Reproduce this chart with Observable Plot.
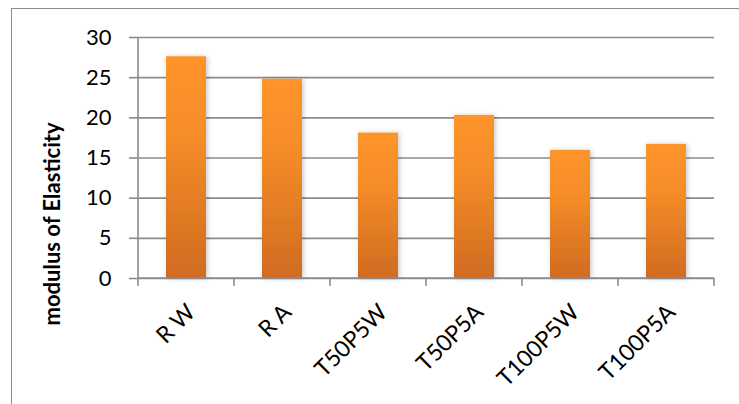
<!DOCTYPE html>
<html>
<head>
<meta charset="utf-8">
<script src="https://cdn.jsdelivr.net/npm/d3@7"></script>
<script src="https://cdn.jsdelivr.net/npm/@observablehq/plot@0.6"></script>
<style>
  html, body { margin: 0; padding: 0; background: #fff; }
  #chart { position: relative; width: 739px; height: 404px; overflow: hidden; }
  #chart svg { display: block; }
</style>
</head>
<body>
<div id="chart"></div>
<script>
const categories = ["R W", "R A", "T50P5W", "T50P5A", "T100P5W", "T100P5A"];
const values = [27.6, 24.8, 18.1, 20.3, 15.95, 16.7];
const yTicks = [0, 5, 10, 15, 20, 25, 30];
const yLabel = "modulus of Elasticity";

const data = categories.map((c, i) => ({cat: c, val: values[i]}));

const plot = Plot.plot({
  width: 739,
  height: 404,
  marginLeft: 137,
  marginRight: 25,
  marginTop: 37,
  marginBottom: 126,
  style: {fontFamily: "Lato, 'Open Sans', sans-serif", background: "white", overflow: "visible"},
  x: {domain: categories, paddingInner: 0.585, paddingOuter: 0.2925, label: null},
  y: {domain: [0, 30], ticks: yTicks, label: null},
  marks: [
    Plot.ruleY(yTicks, {stroke: "#8c8c8c", strokeWidth: 1.6, strokeOpacity: 1}),
    Plot.barY(data, {x: "cat", y: "val", fill: "url(#barGrad)"}),
    Plot.axisY({ticks: yTicks, tickSize: 8, tickPadding: 18, fontSize: 22, stroke: "#8c8c8c", strokeWidth: 1.6, strokeOpacity: 1, fill: "#000", label: null}),
    Plot.axisX({tickSize: 0, tickPadding: 30, tickRotate: -45, fontSize: 23, fill: "#000", dx: 5, label: null})
  ]
});

const svg = d3.select(plot);
const defs = svg.insert("defs", ":first-child");
const grad = defs.append("linearGradient").attr("id", "barGrad")
  .attr("x1", 0).attr("y1", 0).attr("x2", 0).attr("y2", 1);
grad.append("stop").attr("offset", "0%").attr("stop-color", "#ff942a");
grad.append("stop").attr("offset", "35%").attr("stop-color", "#f58d29");
grad.append("stop").attr("offset", "100%").attr("stop-color", "#d06b20");
const filt = defs.append("filter").attr("id", "barShadow")
  .attr("x", "-30%").attr("y", "-10%").attr("width", "160%").attr("height", "120%");
filt.append("feDropShadow").attr("dx", 1.5).attr("dy", 0.5).attr("stdDeviation", 2.5)
  .attr("flood-color", "#000").attr("flood-opacity", 0.22);

svg.selectAll("rect").filter(function() { return this.getAttribute("fill") === "url(#barGrad)" || (this.parentNode && this.parentNode.getAttribute("fill") === "url(#barGrad)"); })
  .attr("filter", "url(#barShadow)");
svg.selectAll("g[aria-label]").each(function() {
  const lab = this.getAttribute("aria-label") || "";
  if (lab.startsWith("y-axis tick label")) d3.select(this).selectAll("text").style("font-size", "22px");
  if (lab.startsWith("x-axis tick label")) d3.select(this).selectAll("text").style("font-size", "23px");
});

// x ticks at band boundaries and axis lines, from Plot's own scales
const xs = plot.scale("x");
const ys = plot.scale("y");
const y0 = ys.apply(0);
const half = xs.step / 2;
const bounds = [];
categories.forEach((c, i) => {
  const center = xs.apply(c) + xs.bandwidth / 2;
  if (i === 0) bounds.push(center - half);
  bounds.push(center + half);
});
const tg = svg.append("g").attr("stroke", "#8c8c8c").attr("stroke-width", 1.6);
bounds.forEach(b => {
  tg.append("line").attr("x1", b).attr("x2", b).attr("y1", y0).attr("y2", y0 + 8);
});
tg.append("line").attr("x1", bounds[0]).attr("x2", bounds[0]).attr("y1", ys.apply(30)).attr("y2", y0);
tg.append("line").attr("x1", bounds[0]).attr("x2", bounds[bounds.length - 1]).attr("y1", y0).attr("y2", y0);

svg.append("text")
  .attr("transform", `translate(60,224) rotate(-90)`)
  .attr("text-anchor", "middle")
  .style("font-size", "22px")
  .attr("font-weight", "bold")
  .attr("fill", "#000")
  .text(yLabel);

svg.append("rect").attr("x", 11.5).attr("y", 8.5).attr("width", 760).attr("height", 420)
  .attr("fill", "none").attr("stroke", "#8c8c8c").attr("stroke-width", 1);

document.getElementById("chart").appendChild(plot);
// force font/layout resolution before the snapshot
plot.querySelectorAll("text").forEach(t => { try { t.getComputedTextLength(); } catch (e) {} });
</script>
</body>
</html>
